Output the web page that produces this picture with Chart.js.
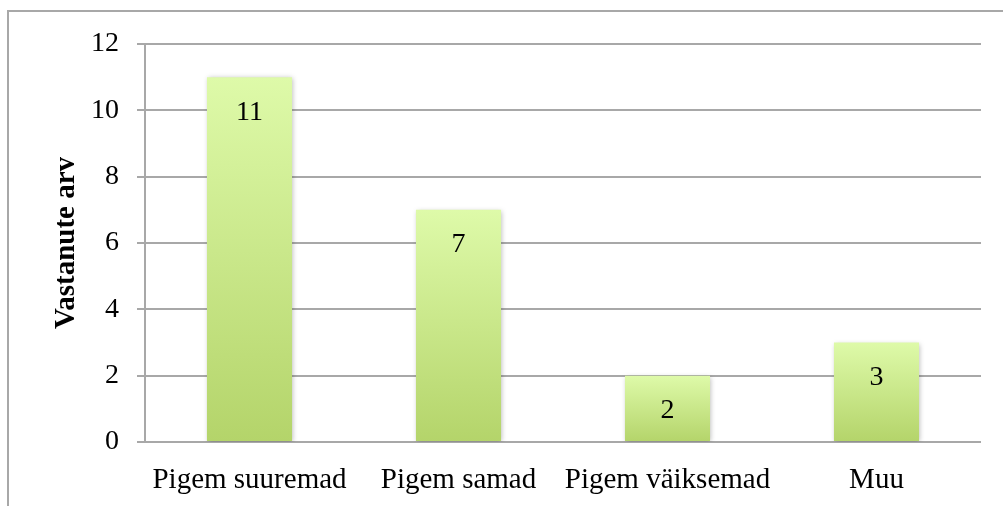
<!DOCTYPE html>
<html>
<head>
<meta charset="utf-8">
<script src="https://cdn.jsdelivr.net/npm/chart.js@4.4.0/dist/chart.umd.min.js"></script>
<style>
  html, body { margin: 0; padding: 0; background: #fff; }
  #wrap { position: relative; width: 1003px; height: 506px; overflow: hidden; }
  #frame { position: absolute; left: 7px; top: 10px; width: 1100px; height: 600px;
           border-left: 2px solid #a8a8a8; border-top: 2px solid #a8a8a8; pointer-events: none; }
</style>
</head>
<body>
<div id="wrap">
  <canvas id="chart" width="1003" height="506"></canvas>
  <div id="frame"></div>
</div>
<script>
// andmed
var categories = ["Pigem suuremad", "Pigem samad", "Pigem väiksemad", "Muu"];
var counts = [11, 7, 2, 3];
var yTicks = [0, 2, 4, 6, 8, 10, 12];

var serif = "'Liberation Serif', 'Times New Roman', serif";

// gradient for each bar, top light -> bottom darker green
function barFill(context) {
    var chart = context.chart;
    var yScale = chart.scales.y;
    if (!yScale || context.parsed == null) return '#c8e68a';
    var top = yScale.getPixelForValue(context.parsed.y);
    var bottom = yScale.getPixelForValue(0);
    if (!isFinite(top) || !isFinite(bottom) || top === bottom) return '#c8e68a';
    var g = chart.ctx.createLinearGradient(0, top, 0, bottom);
    g.addColorStop(0, '#defaa9');
    g.addColorStop(1, '#b4d46a');
    return g;
}

// soft shadow around the bars
var barShadow = {
    id: 'barShadow',
    beforeDatasetDraw: function (chart) {
        var ctx = chart.ctx;
        ctx.save();
        ctx.shadowColor = 'rgba(0,0,0,0.28)';
        ctx.shadowBlur = 5;
        ctx.shadowOffsetX = 1;
        ctx.shadowOffsetY = 1;
    },
    afterDatasetDraw: function (chart) {
        chart.ctx.restore();
    }
};

// value labels inside the bar near the top
var valueLabels = {
    id: 'valueLabels',
    afterDatasetsDraw: function (chart) {
        var ctx = chart.ctx;
        var meta = chart.getDatasetMeta(0);
        ctx.save();
        ctx.font = '28px ' + serif;
        ctx.fillStyle = '#000';
        ctx.textAlign = 'center';
        ctx.textBaseline = 'middle';
        meta.data.forEach(function (bar, i) {
            ctx.fillText(String(counts[i]), bar.x, bar.y + 35);
        });
        ctx.restore();
    }
};

new Chart(document.getElementById('chart'), {
    type: 'bar',
    data: {
        labels: categories,
        datasets: [{
            data: counts,
            backgroundColor: barFill,
            borderWidth: 0,
            barPercentage: 0.407,
            categoryPercentage: 1.0
        }]
    },
    options: {
        responsive: false,
        animation: false,
        devicePixelRatio: 1,
        layout: { padding: { left: 0, right: 22, top: 44, bottom: 0 } },
        plugins: {
            legend: { display: false },
            tooltip: { enabled: false }
        },
        scales: {
            x: {
                grid: { display: false, drawTicks: false },
                border: { display: false },
                ticks: { color: '#000', font: { family: serif, size: 29 }, padding: 21, maxRotation: 0 },
                afterFit: function (scale) { scale.height = 64; }
            },
            y: {
                min: 0,
                max: 12,
                afterBuildTicks: function (scale) {
                    scale.ticks = yTicks.map(function (v) { return { value: v }; });
                },
                grid: { color: '#a8a8a8', lineWidth: 2, tickLength: 8, drawTicks: true },
                border: { display: true, color: '#a8a8a8', width: 2 },
                ticks: { color: '#000', font: { family: serif, size: 28 }, padding: 18 },
                title: {
                    display: true,
                    text: 'Vastanute arv',
                    color: '#000',
                    font: { family: serif, size: 29, weight: 'bold' },
                    padding: { top: 49, bottom: 0 }
                },
                afterFit: function (scale) { scale.width = 145; }
            }
        }
    },
    plugins: [barShadow, valueLabels]
});
</script>
</body>
</html>
